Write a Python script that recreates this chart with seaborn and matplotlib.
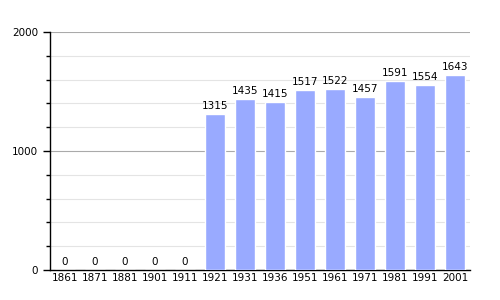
import matplotlib
matplotlib.use("Agg")
import matplotlib.pyplot as plt
import seaborn as sns
import pandas as pd
from matplotlib.ticker import MultipleLocator

years = ["1861", "1871", "1881", "1901", "1911", "1921", "1931", "1936",
         "1951", "1961", "1971", "1981", "1991", "2001"]
population = [0, 0, 0, 0, 0, 1315, 1435, 1415, 1517, 1522, 1457, 1591, 1554, 1643]
yticks = [0, 1000, 2000]

df = pd.DataFrame({"year": years, "pop": population})

sns.set_style("white")
plt.rcParams['font.family'] = ['DejaVu Sans']
plt.rcParams['text.color'] = 'black'
plt.rcParams['xtick.color'] = 'black'
plt.rcParams['ytick.color'] = 'black'

fig = plt.figure(figsize=(5, 3), dpi=100)
ax = fig.add_axes([0.1, 0.1, 0.84, 0.793])

sns.barplot(data=df, x="year", y="pop", color="#99aaff", saturation=1,
            width=0.67, ax=ax, zorder=3)

ax.set_ylim(0, 2000)
ax.set_xlim(-0.5, len(years) - 0.5)
ax.set_yticks(yticks)
ax.set_yticklabels([str(v) for v in yticks])
ax.yaxis.set_minor_locator(MultipleLocator(200))
ax.grid(axis="y", which="minor", color="#e4e4e4", linewidth=0.8, zorder=0)
ax.grid(axis="y", which="major", color="#aaaaaa", linewidth=0.8, zorder=0)
ax.set_axisbelow(True)

for s in ["top", "right"]:
    ax.spines[s].set_visible(False)
ax.spines["left"].set_color("black")
ax.spines["bottom"].set_color("black")
ax.spines["left"].set_linewidth(1)
ax.spines["bottom"].set_linewidth(1)

ax.tick_params(axis="y", which="major", length=5, width=1, color="black",
               labelsize=7.5, left=True, labelcolor="black")
ax.tick_params(axis="y", which="minor", length=3, width=1, color="black", left=True)
ax.tick_params(axis="x", length=0, labelsize=7.5, pad=2, labelcolor="black")
ax.set_xlabel("")
ax.set_ylabel("")

for i, v in enumerate(population):
    ax.text(i, v + 25, str(v), ha="center", va="bottom", fontsize=7.5, color="black")

fig.savefig("out.png", dpi=100)
